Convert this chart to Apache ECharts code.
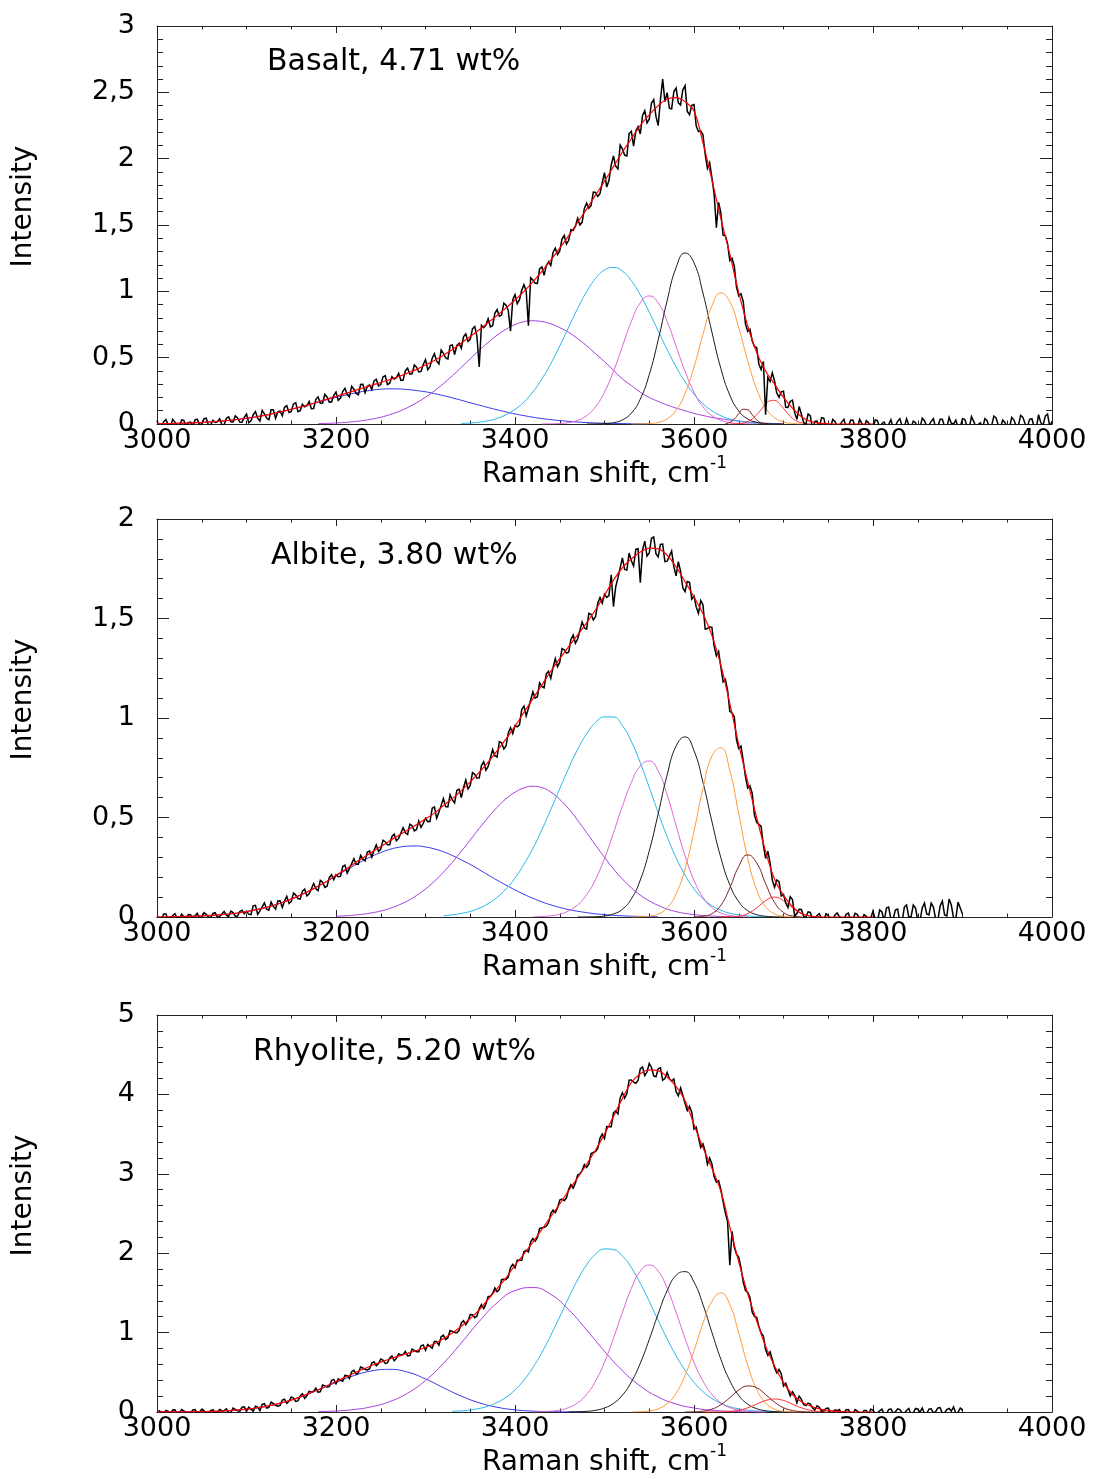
<!DOCTYPE html>
<html><head><meta charset="utf-8">
<script src="https://cdn.jsdelivr.net/npm/echarts/dist/echarts.min.js"></script>
<style>html,body{margin:0;padding:0;background:#fff}#c{width:1097px;height:1479px}</style>
</head><body><div id="c"></div>
<script>
// ---------------- DATA ----------------
const PANEL_TITLES = ['Basalt, 4.71 wt%', 'Albite, 3.80 wt%', 'Rhyolite, 5.20 wt%'];
const X_MIN = 3000, X_MAX = 4000, X_INTERVAL = 200;
const Y_MAX = [3, 2, 5];
const Y_INTERVAL = [0.5, 0.5, 1];
const X_NAME = 'Raman shift, cm', X_NAME_SUP = '-1', Y_NAME = 'Intensity';

// measured spectra, read at 3000, 3005, 3010 ... (step 5 cm-1)
const DATA_START = 3000, DATA_STEP = 5;
// and the readings in between, at 3002.5, 3007.5 ...
const MID_OFFSET = 2.5;
const basaltData = [
.026,-.016,.033,-.023,.014,-.024,.028,.011,-.015,.037,
0,.044,-.005,.012,.039,-.006,.054,.015,.046,.014,
.075,.024,.093,.023,.077,.032,.107,.09,.062,.138,
.095,.16,.1,.129,.17,.117,.204,.158,.204,.166,
.241,.195,.269,.204,.262,.22,.299,.285,.26,.338,
.297,.364,.307,.338,.382,.331,.42,.378,.428,.396,
.485,.432,.529,.453,.533,.49,.596,.59,.57,.68,
.64,.735,.43,.727,.794,.741,.863,.821,.895,.70,
.975,.937,1.05,.74,1.086,1.06,1.185,1.195,1.195,1.325,
1.305,1.422,1.385,1.46,1.55,1.52,1.665,1.647,1.745,1.738,
1.894,1.837,2.02,1.923,2.074,2.02,2.206,2.208,2.186,2.362,
2.298,2.445,2.25,2.6,2.498,2.375,2.532,2.405,2.55,2.331,
2.408,2.204,2.18,1.926,1.858,1.48,1.592,1.421,1.232,1.189,
.966,.925,.698,.628,.576,.41,.07,.32,.324,.202,
.248,.124,.18,.034,.073,-.003,.062,.019,-.023,.044,
-.018,.035,-.018,.014,-.028,.028,-.021,.035,-.031,.010,
-.035,.025,.004,-.028,.032,-.014,.04,-.025,-.007,.021,
-.035,.045,-.018,.02,-.03,.035,-.02,.05,0,-.025,
.04,-.015,.055,-.02,.01,.04,-.03,.06,-.01,.03,
-.025,.05,-.015,.065,0,.035,-.02,.07,-.01,.075,
.02];
const basaltMid = [
-.025,.018,-.006,.035,-.013,.031,-.023,.015,.031,-.004,
.04,-.009,.029,.017,-.005,.044,.017,.062,.015,.05,
.0095,.0705,.044,.102,.0445,.1075,.0425,.098,.126,.0865,
.1515,.092,.1485,.1375,.1155,.1865,.157,.223,.165,.2155,
.178,.244,.2225,.285,.231,.2975,.236,.2945,.325,.2875,
.3545,.2975,.3565,.348,.3285,.4015,.375,.445,.392,.4485,
.4085,.4955,.4735,.558,.499,.5905,.523,.6075,.6575,.6225,
.7175,.658,.744,.7455,.7325,.8345,.812,.9105,.855,.935,
.906,1.0085,1.0025,1.103,1.0605,1.17,1.12,1.2225,1.2925,1.2775,
1.3935,1.356,1.465,1.49,1.5,1.625,1.626,1.7485,1.716,1.819,
1.7855,1.9525,1.9435,2.1025,2.027,2.189,2.095,2.241,2.326,2.27,
2.4195,2.3185,2.4445,2.4295,2.3805,2.5055,2.4205,2.5175,2.3565,2.4015,
2.246,2.21,2.032,1.97,1.7315,1.6705,1.4225,1.3595,1.2495,1.0325,
.9815,.7545,.714,.584,.451,.471,.351,.385,.233,.243,
.126,.17,.0855,.1315,.01,.0765,-.0435,.022,.0475,-.027,
-.03,.02,-.01,.035,-.02,.03,-.035,.005,.025,-.02,
.03,-.03,.015,-.005,-.03,.02,-.015,.04,-.025,.01,
-.03,.025,-.01,.04,-.02,.035,-.03,.005,.03,-.02,
.035,-.03,.02,-.005,-.03,.025,-.015,.045,-.025,.01,
-.03,.03,-.01,.05,-.02,.04,-.03,.01,.06,-.02];
const albiteData = [
.0025,-.011,.015,-.004,.017,-.008,0,.0125,-.011,.0185,
-.0015,.013,-.004,.0215,.002,.028,.0015,.022,.005,.034,
.0295,.0115,.0585,.031,.071,.0345,.053,.0805,.048,.104,
.0775,.11,.09,.1405,.116,.168,.1325,.175,.155,.2125,
.2125,.204,.2605,.243,.293,.265,.292,.3265,.301,.3625,
.3415,.3785,.363,.4165,.395,.4485,.4145,.4585,.44,.45,
.4965,.4795,.5535,.527,.595,.553,.588,.636,.60,.6885,
.6615,.717,.699,.7805,.757,.8415,.8035,.8755,.86,.9515,
.9625,.9655,1.0595,1.0485,1.132,1.107,1.159,1.2215,1.20,1.298,
1.2805,1.3425,1.331,1.4165,1.397,1.483,1.4465,1.5215,1.509,1.605,
1.622,1.615,1.56,1.704,1.805,1.743,1.79,1.847,1.68,1.889,
1.829,1.91,1.81,1.874,1.788,1.839,1.714,1.737,1.635,1.682,
1.613,1.526,1.569,1.45,1.455,1.312,1.257,1.194,1.033,1.006,
.847,.786,.648,.622,.476,.455,.294,.272,.15,.178,
.113,.048,.088,.019,.038,-.003,.023,-.007,.017,-.02,
.008,-.016,.02,-.006,.014,-.02,.018,-.008,.012,-.018,
.03,-.02,.025,.045,-.01,.035,-.025,.05,0,.06,
-.015,.045,.015,.07,-.01,.055,.01,.09,-.005,.075,
.015];
const albiteMid = [
-.0079,.0148,-.0135,.0064,-.0038,.0147,-.0103,.0112,.006,-.005,
.0215,0,.0178,-.0018,.015,.0095,.0297,.0038,.0278,.0162,
.0143,.0563,.0135,.051,.039,.075,.0393,.0818,.0798,.0683,
.12,.0925,.1303,.1058,.142,.1415,.1838,.1488,.1975,.1875,
.202,.2535,.2205,.268,.2653,.3098,.2818,.3313,.3355,.3295,
.3863,.3633,.4048,.3833,.4218,.4228,.4665,.433,.482,.471,
.4793,.5463,.4965,.561,.5548,.6143,.5735,.6425,.6495,.6435,
.726,.6975,.7608,.7373,.7993,.8103,.8815,.845,.925,.922,
.9553,1.0423,1.0103,1.0903,1.1003,1.1768,1.1518,1.2353,1.2543,1.2578,
1.3483,1.3263,1.3948,1.3753,1.44,1.4525,1.526,1.4925,1.5763,1.5778,
1.606,1.719,1.6585,1.7545,1.7465,1.829,1.7635,1.8505,1.844,1.814,
1.903,1.826,1.872,1.786,1.8135,1.759,1.7855,1.6535,1.686,1.5975,
1.557,1.59,1.447,1.4575,1.3615,1.3345,1.1815,1.1415,1.0255,.8905,
.8585,.705,.659,.513,.4655,.3605,.331,.185,.186,.1055,
.0705,.102,.0035,.0385,.0025,.026,-.016,.008,-.0075,.016,
-.018,.01,.002,-.014,.02,-.01,.012,-.016,.004,-.006,
-.015,.035,-.02,.05,-.01,.04,-.025,.06,0,.045,
-.02,.07,.01,.05,-.015,.08,.005,.06,-.01,.045];
const rhyoliteData = [
-.0206,-.0054,.0188,-.029,.0281,-.0135,.014,-.0215,.027,-.014,
.035,-.0205,.017,-.02,.033,.018,-.006,.049,.014,.0615,
.009,.0355,.074,.019,.104,.059,.106,.072,.15,.11,
.19,.134,.202,.1725,.263,.2615,.248,.341,.314,.397,
.356,.4025,.461,.423,.525,.4935,.554,.5295,.617,.5825,
.668,.612,.68,.646,.732,.7255,.707,.7925,.758,.8335,
.778,.8265,.89,.8415,.968,.934,1.015,.998,1.121,1.0995,
1.228,1.1865,1.30,1.3025,1.455,1.4925,1.515,1.6675,1.67,1.82,
1.815,1.91,2.02,2.015,2.185,2.195,2.32,2.34,2.50,2.51,
2.67,2.66,2.805,2.82,2.985,3.04,3.08,3.255,3.28,3.45,
3.444,3.594,3.768,3.755,4.022,4.01,4.182,4.141,4.324,4.237,
4.39,4.233,4.324,4.18,4.276,4.168,4.036,4.082,3.888,3.85,
3.564,3.459,3.378,3.12,3.124,2.895,2.804,2.507,1.85,2.074,
1.95,1.636,1.508,1.26,1.192,.996,.782,.759,.556,.535,
.328,.283,.256,.115,.16,.08,.10,.027,.06,.015,
.05,-.011,.018,-.025,.028,-.0185,.03,-.01,.02,-.03,
.025,-.01,.035,-.02,.04,0,.03,-.015,.045,-.01,
.035,.05,-.02,.04,.005,.055,-.01,.045,.065,-.005,
.02];
const rhyoliteMid = [
.0155,-.0263,.0069,.025,-.0167,.0318,-.0067,-.0182,.0305,-.0015,
.0178,-.0227,.03,-.004,.0165,.0405,-.007,.033,.0108,.0643,
.0603,.0108,.0625,.0955,.0495,.1245,.085,.083,.162,.134,
.176,.14,.2293,.2038,.2503,.3008,.2565,.3295,.3195,.4105,
.4173,.3878,.458,.508,.4773,.5658,.5378,.5453,.6318,.6093,
.654,.618,.705,.675,.7168,.7623,.7118,.7773,.7598,.8433,
.8498,.8033,.8858,.9473,.911,1.027,1.0015,1.0245,1.1503,1.1438,
1.2248,1.2083,1.3538,1.3613,1.4588,1.5613,1.5438,1.6713,1.70,1.86,
1.91,1.91,2.0375,2.1425,2.15,2.31,2.325,2.385,2.545,2.57,
2.6825,2.6975,2.865,2.885,2.9975,3.1175,3.12,3.27,3.32,3.50,
3.595,3.593,3.7935,3.9565,3.952,4.18,4.1535,4.1765,4.3445,4.2815,
4.3395,4.2225,4.336,4.20,4.198,4.194,3.983,3.989,3.797,3.775,
3.5875,3.3305,3.281,3.199,2.9615,2.9125,2.6495,2.4005,2.274,1.988,
1.814,1.53,1.447,1.205,1.076,.958,.7135,.6605,.4915,.4825,
.3625,.2035,.2095,.2005,.095,.1125,.051,.0785,.01,.045,
-.013,.026,.0315,-.016,.032,-.024,.01,-.03,.02,.035,
-.02,.015,-.025,.03,-.015,.04,-.01,.02,-.03,.045,
0,-.02,.035,-.01,.05,-.02,.03,.01,-.015,.05];

// fitted envelopes: start 3000, step 10 cm-1
const FIT_START = 3000, FIT_STEP = 10;
const basaltFit = [
.002,.003,.005,.007,.009,.012,.016,.021,.027,.034,
.043,.053,.065,.079,.094,.111,.128,.146,.168,.188,
.209,.229,.250,.271,.292,.313,.335,.358,.384,.412,
.445,.479,.518,.561,.610,.660,.711,.764,.818,.875,
.935,1.000,1.071,1.150,1.235,1.325,1.42,1.52,1.62,1.725,
1.83,1.94,2.05,2.15,2.25,2.33,2.40,2.45,2.46,2.43,
2.36,2.12,1.84,1.55,1.28,.99,.74,.54,.40,.30,
.20,.12,.055,.02,.007,.002,0,0,0,0,
0];
const albiteFit = [
.001,.0013,.002,.003,.004,.006,.008,.011,.015,.020,
.027,.036,.046,.058,.073,.090,.110,.131,.155,.180,
.210,.238,.268,.297,.326,.354,.383,.410,.437,.465,
.493,.522,.560,.595,.635,.679,.727,.778,.835,.895,
.959,1.028,1.097,1.166,1.235,1.298,1.359,1.418,1.478,1.544,
1.617,1.693,1.755,1.800,1.834,1.854,1.850,1.818,1.759,1.685,
1.608,1.524,1.415,1.265,1.073,.867,.68,.50,.33,.19,
.109,.052,.018,.005,.001,0,0,0,0,0,
0];
const rhyoliteFit = [
.0004,.0008,.0011,.002,.003,.005,.008,.012,.018,.026,
.037,.05,.068,.09,.118,.15,.19,.235,.28,.33,
.384,.437,.489,.538,.585,.628,.668,.704,.739,.774,
.813,.86,.923,.995,1.081,1.178,1.285,1.42,1.555,1.69,
1.85,1.99,2.14,2.30,2.46,2.62,2.79,2.95,3.12,3.30,
3.50,3.72,3.95,4.15,4.26,4.31,4.30,4.22,4.10,3.92,
3.62,3.33,3.07,2.78,2.33,1.89,1.49,1.15,.83,.58,
.37,.22,.13,.075,.04,.02,.008,.003,0,0,
0];

// component bands (order: blue, purple, cyan, pink, black, orange, brown, red)
const COMPONENT_NAMES = ['blue','purple','cyan','pink','black','orange','brown','red'];
const basaltStarts = [3000, 3180, 3340, 3430, 3480, 3530, 3635, 3640];
const basaltSteps  = [10, 10, 10, 10, 10, 10, 5, 5];
const basaltBlue = [.0024,.0034,.0047,.0067,.009,.012,.016,.021,.027,.034,.043,.053,.065,.079,.094,.111,.128,.146,.164,.183,.201,.217,.232,.245,.255,.262,.265,.264,.260,.252,.243,.229,.214,.197,.179,.160,.142,.124,.107,.091,.076,.063,.051,.041,.033,.026,.020,.015,.011,.008,.006,.0045,.003,.002,.0016,.001];
const basaltPurple = [.0035,.005,.008,.012,.018,.026,.037,.051,.070,.094,.124,.160,.202,.250,.304,.364,.427,.492,.555,.615,.669,.714,.749,.771,.778,.772,.755,.726,.69,.643,.59,.53,.47,.405,.34,.29,.24,.20,.17,.143,.12,.10,.08,.064,.05,.04,.03,.022,.015,.01,.006,.004,.002];
const basaltCyan = [.004,.0075,.014,.025,.042,.070,.110,.166,.242,.339,.455,.588,.730,.871,.997,1.097,1.161,1.18,1.152,1.080,.973,.843,.701,.561,.431,.318,.225,.153,.100,.063,.038,.022,.012,.0066,.0034,.0017];
const basaltPink = [.0003,.0011,.0037,.0107,.028,.063,.130,.241,.397,.585,.773,.913,.965,.913,.773,.585,.397,.241,.130,.063,.028,.0107,.0037,.0011,.0003];
const basaltBlack = [.0001,.0006,.0028,.010,.031,.082,.188,.372,.634,.930,1.179,1.289,1.215,.987,.693,.419,.218,.098,.038,.0128,.0037,.0009,.0002];
const basaltOrange = [.0001,.0008,.0034,.012,.039,.104,.230,.430,.675,.890,.988,.922,.724,.477,.264,.124,.048,.016,.0044,.001];
const basaltBrown = [.0026,.012,.037,.078,.111,.107,.070,.031,.009,.002];
const basaltRed = [.0002,.0008,.0025,.007,.018,.038,.069,.109,.149,.175,.178,.156,.118,.077,.043,.021,.009,.003,.001];

const albiteStarts = [3020, 3200, 3320, 3420, 3470, 3530, 3600, 3630];
const albiteSteps  = [10, 10, 10, 10, 10, 10, 10, 10];
const albiteBlue = [.0019,.0027,.0039,.0057,.008,.011,.015,.020,.027,.036,.046,.058,.073,.090,.110,.131,.155,.180,.206,.232,.258,.283,.305,.324,.340,.350,.356,.357,.352,.342,.328,.309,.287,.264,.238,.211,.185,.160,.136,.114,.094,.076,.061,.048,.037,.029,.022,.016,.012,.0085,.006,.004,.0028,.0019,.0012];
const albitePurple = [.004,.006,.0095,.014,.021,.030,.043,.060,.081,.108,.141,.180,.225,.275,.330,.387,.445,.500,.551,.594,.627,.649,.657,.650,.628,.591,.543,.486,.424,.361,.300,.242,.191,.147,.110,.081,.058,.040,.027,.018,.012,.007,.0045,.0027,.0016];
const albiteCyan = [.0065,.011,.018,.028,.044,.067,.099,.141,.196,.265,.345,.438,.540,.645,.748,.842,.920,.977,1.006,1.005,.962,.882,.775,.651,.524,.404,.298,.211,.142,.092,.057,.034,.019,.011,.0055,.0027,.0012];
const albitePink = [.0009,.0024,.006,.014,.031,.061,.112,.189,.294,.422,.557,.676,.759,.784,.733,.614,.459,.308,.185,.099,.048,.020,.0079,.0027,.0008];
const albiteBlack = [.0001,.0004,.0014,.0048,.015,.039,.091,.186,.332,.519,.714,.859,.905,.836,.677,.480,.298,.162,.077,.032,.012,.0038,.0011,.0003];
const albiteOrange = [.0002,.001,.0044,.015,.046,.116,.243,.432,.645,.808,.851,.736,.518,.296,.138,.052,.016,.004,.0009,.0002];
const albiteBrown = [.0005,.0035,.017,.059,.146,.254,.312,.272,.168,.073,.023,.005,.0008];
const albiteRed = [.0001,.0008,.0044,.017,.046,.082,.100,.082,.046,.017,.0044,.0008];

const rhyoliteStarts = [3000, 3180, 3330, 3420, 3460, 3530, 3590, 3610];
const rhyoliteSteps  = [20, 20, 10, 10, 10, 10, 10, 10];
const rhyoliteBlue = [.0004,.0011,.003,.0076,.017,.035,.067,.118,.188,.276,.371,.458,.518,.537,.502,.416,.306,.200,.116,.060,.027,.011,.004,.0013,.0004];
const rhyolitePurple = [.005,.013,.031,.067,.131,.237,.397,.613,.870,1.140,1.375,1.529,1.567,1.481,1.289,1.033,.765,.520,.327,.189,.101,.050,.022,.0094,.0036,.0013];
const rhyoliteCyan = [.0077,.014,.026,.044,.075,.120,.186,.279,.402,.559,.748,.966,1.200,1.440,1.665,1.852,1.987,2.054,2.046,1.965,1.818,1.621,1.393,1.153,.920,.708,.525,.375,.258,.171,.109,.067,.040,.023,.013,.0068,.0035,.0017];
const rhyolitePink = [.0013,.0037,.0098,.024,.056,.116,.222,.390,.627,.927,1.255,1.557,1.773,1.851,1.773,1.557,1.255,.927,.627,.390,.222,.116,.056,.024,.0098,.0037,.0013];
const rhyoliteBlack = [.0009,.003,.0083,.0215,.051,.108,.212,.378,.615,.913,1.237,1.527,1.721,1.768,1.636,1.354,1.003,.665,.395,.209,.099,.042,.016,.0055,.0017,.0005];
const rhyoliteOrange = [.0009,.0037,.013,.040,.105,.236,.460,.771,1.116,1.393,1.50,1.353,.992,.593,.287,.113,.036,.0095,.002,.0003];
const rhyoliteBrown = [.0005,.0027,.011,.036,.092,.180,.276,.328,.305,.220,.124,.054,.019,.0049,.001,.0002];
const rhyoliteRed = [.0001,.0004,.0018,.0072,.022,.053,.0995,.145,.164,.145,.0995,.053,.022,.0072,.0018,.0004];

// ---------------- STYLE / LAYOUT ----------------
const FONT = 'DejaVu Sans';
const COMPONENT_COLORS = ['#3535e8','#a33de0','#26b4ec','#dc63d2','#1a1a1a','#ff9a3c','#7d1d1d','#ff3030'];
const GRID_TOPS = [26, 519, 1015];
const GRID_HEIGHTS = [398, 398, 397];
const YNAME_CENTERS = [206.5, 699.5, 1195.5];
const TITLE_POS = [[267, 47.5], [271, 541], [253, 1037]];

const panels = [
  { data: basaltData, mid: basaltMid, fit: basaltFit, starts: basaltStarts, steps: basaltSteps,
    comps: [basaltBlue, basaltPurple, basaltCyan, basaltPink, basaltBlack, basaltOrange, basaltBrown, basaltRed] },
  { data: albiteData, mid: albiteMid, fit: albiteFit, starts: albiteStarts, steps: albiteSteps,
    comps: [albiteBlue, albitePurple, albiteCyan, albitePink, albiteBlack, albiteOrange, albiteBrown, albiteRed] },
  { data: rhyoliteData, mid: rhyoliteMid, fit: rhyoliteFit, starts: rhyoliteStarts, steps: rhyoliteSteps,
    comps: [rhyoliteBlue, rhyolitePurple, rhyoliteCyan, rhyolitePink, rhyoliteBlack, rhyoliteOrange, rhyoliteBrown, rhyoliteRed] }
];

function pts(start, step, values) { return values.map((v, i) => [start + i * step, v]); }
function interleave(main, mid) {
  const out = [];
  main.forEach((v, i) => {
    out.push([DATA_START + i * DATA_STEP, v]);
    if (i < mid.length) out.push([DATA_START + i * DATA_STEP + MID_OFFSET, mid[i]]);
  });
  return out;
}

const grid = [], xAxis = [], yAxis = [], series = [], title = [], graphic = [];
const axisLine = { show: true, onZero: false, lineStyle: { color: '#222', width: 1 } };

panels.forEach((p, k) => {
  grid.push({ left: 157, width: 895, top: GRID_TOPS[k], height: GRID_HEIGHTS[k], containLabel: false, outerBoundsMode: 'none' });
  ['bottom', 'top'].forEach(pos => {
    xAxis.push({
      type: 'value', gridIndex: k, position: pos, min: X_MIN, max: X_MAX, interval: X_INTERVAL,
      axisLine: axisLine,
      axisTick: { show: true, inside: true, length: 7, lineStyle: { color: '#222', width: 1 } },
      minorTick: { show: true, splitNumber: 4, length: 3.5, lineStyle: { color: '#222', width: 1 } },
      splitLine: { show: false }, minorSplitLine: { show: false },
      axisLabel: { show: pos === 'bottom', color: '#000', fontSize: 27, fontFamily: FONT, margin: 3,
        formatter: v => String(v) },
      name: pos === 'bottom' ? '{a|' + X_NAME + '}{b|' + X_NAME_SUP + '}' : '',
      nameLocation: 'middle', nameGap: 21,
      nameTextStyle: { rich: {
        a: { fontSize: 28, fontFamily: FONT, color: '#000', lineHeight: 40 },
        b: { fontSize: 17, fontFamily: FONT, color: '#000', verticalAlign: 'top', lineHeight: 17 }
      } }
    });
  });
  ['left', 'right'].forEach(pos => {
    yAxis.push({
      type: 'value', gridIndex: k, position: pos, min: 0, max: Y_MAX[k], interval: Y_INTERVAL[k],
      axisLine: axisLine,
      axisTick: { show: true, inside: true, length: 12, lineStyle: { color: '#222', width: 1 } },
      minorTick: { show: true, splitNumber: 5, length: 6, lineStyle: { color: '#222', width: 1 } },
      splitLine: { show: false }, minorSplitLine: { show: false },
      axisLabel: { show: pos === 'left', color: '#000', fontSize: 27, fontFamily: FONT, margin: 22,
        formatter: v => String(v).replace('.', ',') }
    });
  });
  p.comps.forEach((vals, c) => {
    series.push({
      type: 'line', name: COMPONENT_NAMES[c], xAxisIndex: 2 * k, yAxisIndex: 2 * k,
      data: pts(p.starts[c], p.steps[c], vals), showSymbol: false, symbol: 'none', smooth: 0.5,
      lineStyle: { width: 1, color: COMPONENT_COLORS[c] }, itemStyle: { color: COMPONENT_COLORS[c] },
      z: 2, silent: true, animation: false
    });
  });
  series.push({
    type: 'line', name: 'data', xAxisIndex: 2 * k, yAxisIndex: 2 * k,
    data: interleave(p.data, p.mid), showSymbol: false, symbol: 'none', smooth: false,
    lineStyle: { width: 1.5, color: '#000', join: 'miter', miterLimit: 4 }, itemStyle: { color: '#000' },
    z: 3, silent: true, animation: false
  });
  series.push({
    type: 'line', name: 'fit', xAxisIndex: 2 * k, yAxisIndex: 2 * k,
    data: pts(FIT_START, FIT_STEP, p.fit), showSymbol: false, symbol: 'none', smooth: 0.4,
    lineStyle: { width: 1.2, color: '#ff0000' }, itemStyle: { color: '#ff0000' }, z: 4, silent: true, animation: false
  });
  title.push({ text: PANEL_TITLES[k], left: TITLE_POS[k][0], top: TITLE_POS[k][1], padding: 0,
    textStyle: { fontSize: 30, fontWeight: 'normal', fontFamily: FONT, color: '#000' } });
  graphic.push({ type: 'text', x: 24, y: YNAME_CENTERS[k], rotation: Math.PI / 2, silent: true,
    style: { text: Y_NAME, fontSize: 28, fontFamily: FONT, fill: '#000',
      align: 'center', verticalAlign: 'middle', textAlign: 'center', textVerticalAlign: 'middle' } });
});

const chart = echarts.init(document.getElementById('c'), null, { renderer: 'canvas' });
chart.setOption({ animation: false, backgroundColor: '#fff', title, grid, xAxis, yAxis, series, graphic });
</script></body></html>
